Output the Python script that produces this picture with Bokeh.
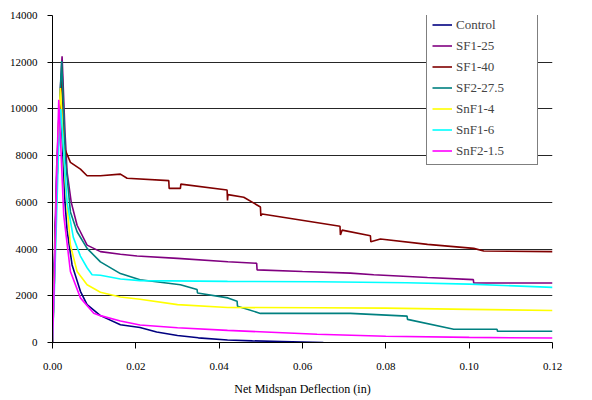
from bokeh.plotting import figure
from bokeh.models import Legend, LegendItem, SingleIntervalTicker, NumeralTickFormatter, Range1d
from bokeh.embed import file_html
from bokeh.resources import INLINE

# Data (deflection in inches, load)
control_x = [0, 0.0005, 0.001, 0.0015, 0.002, 0.0025, 0.003, 0.0035, 0.0047, 0.0067, 0.0083, 0.0115, 0.0163, 0.021, 0.025, 0.03, 0.035, 0.042, 0.048, 0.055, 0.06, 0.065]
control_y = [0, 3500, 6500, 9000, 10200, 8000, 6000, 4800, 3320, 2190, 1620, 1150, 760, 640, 450, 300, 200, 110, 70, 40, 20, 0]

sf125_x = [0, 0.0005, 0.001, 0.0015, 0.0023, 0.003, 0.0035, 0.0045, 0.0059, 0.0083, 0.0115, 0.0163, 0.0203, 0.03, 0.0421, 0.049, 0.0491, 0.06, 0.0715, 0.0771, 0.09, 0.101, 0.1011, 0.12]
sf125_y = [0, 4000, 7500, 9500, 12250, 9000, 7300, 6000, 5020, 4170, 3890, 3775, 3705, 3600, 3460, 3390, 3110, 3040, 2970, 2900, 2780, 2690, 2545, 2545]

sf140_x = [0, 0.0005, 0.0007, 0.001, 0.0015, 0.0023, 0.0027, 0.0043, 0.0067, 0.0083, 0.0115, 0.0163, 0.0179, 0.0279, 0.028, 0.0307, 0.0308, 0.0419, 0.042, 0.0421, 0.0459, 0.0499, 0.05, 0.0503, 0.069, 0.0691, 0.0695, 0.0763, 0.0764, 0.0787, 0.09, 0.1011, 0.1035, 0.12]
sf140_y = [0, 3000, 4960, 6500, 9000, 11800, 8400, 7710, 7425, 7140, 7140, 7210, 7030, 6930, 6600, 6600, 6780, 6530, 6080, 6330, 6220, 5800, 5420, 5500, 4980, 4600, 4810, 4570, 4310, 4430, 4200, 4030, 3920, 3890]

sf2275_x = [0, 0.0005, 0.001, 0.0015, 0.0022, 0.0031, 0.0043, 0.0059, 0.0083, 0.0115, 0.0163, 0.021, 0.0307, 0.0347, 0.0348, 0.0421, 0.0443, 0.0444, 0.0499, 0.0715, 0.0851, 0.0852, 0.0963, 0.1067, 0.1068, 0.12]
sf2275_y = [0, 3500, 7000, 9500, 12050, 7850, 5590, 4740, 4030, 3450, 2950, 2690, 2475, 2265, 2120, 1910, 1770, 1555, 1245, 1245, 1130, 990, 565, 565, 480, 480]

snf14_x = [0, 0.0005, 0.001, 0.0015, 0.0019, 0.0031, 0.0043, 0.0059, 0.0083, 0.0115, 0.0163, 0.021, 0.03, 0.042, 0.0635, 0.08, 0.1, 0.12]
snf14_y = [0, 3000, 6500, 9500, 10890, 6720, 4170, 3040, 2470, 2150, 1950, 1850, 1620, 1500, 1485, 1470, 1420, 1370]

snf16_x = [0, 0.0005, 0.001, 0.0015, 0.002, 0.0035, 0.005, 0.0067, 0.0083, 0.0095, 0.0115, 0.0163, 0.021, 0.042, 0.0635, 0.085, 0.1, 0.12]
snf16_y = [0, 2500, 5500, 8500, 10000, 6000, 4500, 3700, 3200, 2900, 2880, 2720, 2650, 2615, 2600, 2560, 2500, 2360]

snf215_x = [0, 0.0005, 0.001, 0.0015, 0.0027, 0.0043, 0.0067, 0.0099, 0.0115, 0.0163, 0.021, 0.03, 0.042, 0.0635, 0.08, 0.1, 0.12]
snf215_y = [0, 3000, 7000, 10390, 5440, 3040, 1910, 1250, 1150, 920, 750, 630, 520, 350, 270, 220, 190]

names = ["Control", "SF1-25", "SF1-40", "SF2-27.5", "SnF1-4", "SnF1-6", "SnF2-1.5"]
colors = ["#000080", "#800080", "#800000", "#008080", "#FFFF00", "#00FFFF", "#FF00FF"]
series = [(control_x, control_y), (sf125_x, sf125_y), (sf140_x, sf140_y), (sf2275_x, sf2275_y),
          (snf14_x, snf14_y), (snf16_x, snf16_y), (snf215_x, snf215_y)]

FONT = "Times New Roman, Liberation Serif, serif"

p = figure(width=590, height=398, output_backend="svg", toolbar_location=None,
           x_range=Range1d(0, 0.12), y_range=Range1d(0, 14000),
           min_border_left=52, min_border_right=38, min_border_top=15, min_border_bottom=53)
p.outline_line_color = None
p.background_fill_color = "white"

p.xgrid.grid_line_color = None
p.ygrid.grid_line_color = "#000000"
p.ygrid.grid_line_alpha = 0.85
p.ygrid.ticker = SingleIntervalTicker(interval=2000)

p.xaxis.ticker = SingleIntervalTicker(interval=0.02)
p.xaxis.formatter = NumeralTickFormatter(format="0.00")
p.yaxis.ticker = SingleIntervalTicker(interval=2000)
for ax in (p.xaxis, p.yaxis):
    ax.axis_line_color = "black"
    ax.major_tick_line_color = "black"
    ax.minor_tick_line_color = None
    ax.major_tick_in = 0
    ax.major_label_text_font = FONT
    ax.major_label_text_font_size = "11px"
    ax.major_label_text_color = "black"
p.xaxis.major_tick_out = 6
p.xaxis.major_label_standoff = 14
p.yaxis.major_tick_out = 5
p.yaxis.major_label_standoff = 10
p.xaxis.axis_label = "Net Midspan Deflection (in)"
p.xaxis.axis_label_text_font = FONT
p.xaxis.axis_label_text_font_size = "12px"
p.xaxis.axis_label_text_font_style = "normal"
p.xaxis.axis_label_text_color = "black"
p.xaxis.axis_label_standoff = 9

items = []
for name, color, (xs, ys) in zip(names, colors, series):
    r = p.line(xs, ys, line_color=color, line_width=1.6)
    items.append(LegendItem(label=name, renderers=[r]))

legend = Legend(items=items, location=(374, 177))
legend.label_text_font = FONT
legend.label_text_font_size = "13px"
legend.label_height = 17
legend.label_width = 76
legend.glyph_width = 20
legend.glyph_height = 17
legend.label_standoff = 4
legend.spacing = 4
legend.padding = 5
legend.margin = 0
legend.border_line_color = "black"
legend.border_line_width = 1
legend.background_fill_color = "white"
legend.background_fill_alpha = 1
p.add_layout(legend, "center")

open("out.html", "w").write(file_html(p, INLINE))
